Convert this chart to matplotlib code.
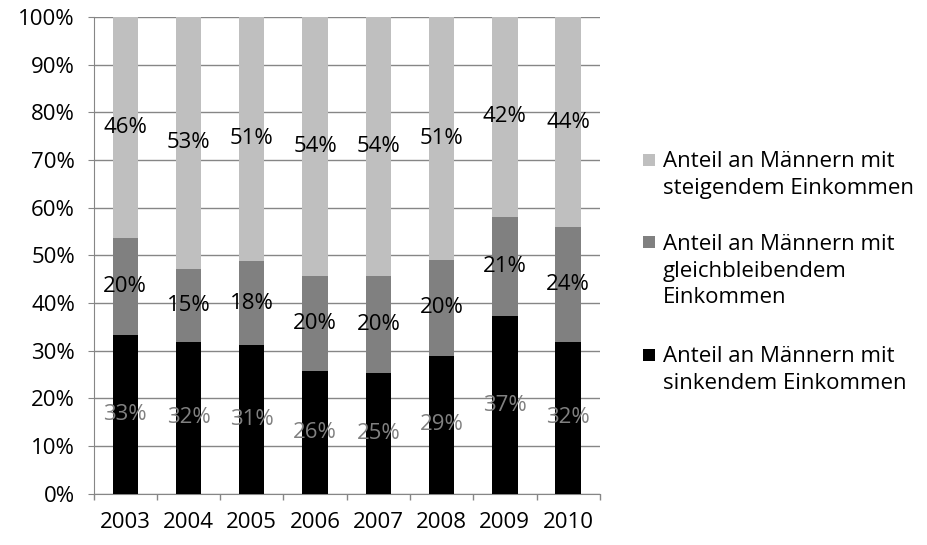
import matplotlib.pyplot as plt
from matplotlib.patches import Rectangle
from matplotlib.ticker import PercentFormatter

years = ['2003', '2004', '2005', '2006', '2007', '2008', '2009', '2010']
sinkend = [33.3, 31.8, 31.1, 25.8, 25.4, 28.9, 37.2, 31.8]
gleich = [20.3, 15.4, 17.8, 19.8, 20.2, 20.2, 20.9, 24.1]
steigend = [46.4, 52.8, 51.1, 54.4, 54.4, 50.9, 41.9, 44.1]

labels = ['Anteil an Männern mit\nsinkendem Einkommen',
          'Anteil an Männern mit\ngleichbleibendem\nEinkommen',
          'Anteil an Männern mit\nsteigendem Einkommen']
colors = ['#000000', '#808080', '#bfbfbf']
text_colors = ['#808080', '#000000', '#000000']

plt.rcParams['font.family'] = ['Open Sans', 'DejaVu Sans']
FS = 16

fig = plt.figure(figsize=(9.27, 5.45), dpi=100)
ax = fig.add_axes([0.101, 0.094, 0.546, 0.875])

x = list(range(len(years)))
bottom = [0] * len(years)
for series, col, tcol in zip([sinkend, gleich, steigend], colors, text_colors):
    ax.bar(x, series, width=0.4, bottom=bottom, color=col, zorder=3)
    for i, v in enumerate(series):
        ax.text(x[i], bottom[i] + v / 2, f'{round(v)}%', ha='center', va='center',
                fontsize=FS, color=tcol, zorder=4)
    bottom = [b + v for b, v in zip(bottom, series)]

ax.set_xlim(-0.5, len(years) - 0.5)
ax.set_ylim(0, 100)
ax.set_yticks(range(0, 101, 10))
ax.yaxis.set_major_formatter(PercentFormatter(decimals=0))
ax.set_xticks(x)
ax.set_xticklabels(years)
ax.set_xticks([i - 0.5 for i in range(len(years) + 1)], minor=True)
ax.tick_params(axis='x', which='major', length=0, pad=13, labelsize=FS)
ax.tick_params(axis='x', which='minor', length=4.5, color='#868686', width=1)
ax.tick_params(axis='y', length=4.5, color='#868686', labelsize=FS, pad=9)
ax.grid(axis='y', color='#868686', linewidth=1, zorder=0)
for s in ['top', 'right']:
    ax.spines[s].set_visible(False)
for s in ['left', 'bottom']:
    ax.spines[s].set_color('#868686')

# legend drawn by hand: square beside the first line of each entry
W, H = 927, 545
sq = 12
entries = [(2, 160, 175), (1, 242, 271), (0, 355, 370)]
for idx, y_first, y_mid in entries:
    fig.patches.append(Rectangle((643 / W, 1 - (y_first + sq / 2) / H), sq / W, sq / H,
                                 facecolor=colors[idx], transform=fig.transFigure))
    fig.text(663 / W, 1 - y_mid / H, labels[idx], fontsize=FS, va='center', ha='left',
             linespacing=1.35)

fig.savefig('out.png', dpi=100)
